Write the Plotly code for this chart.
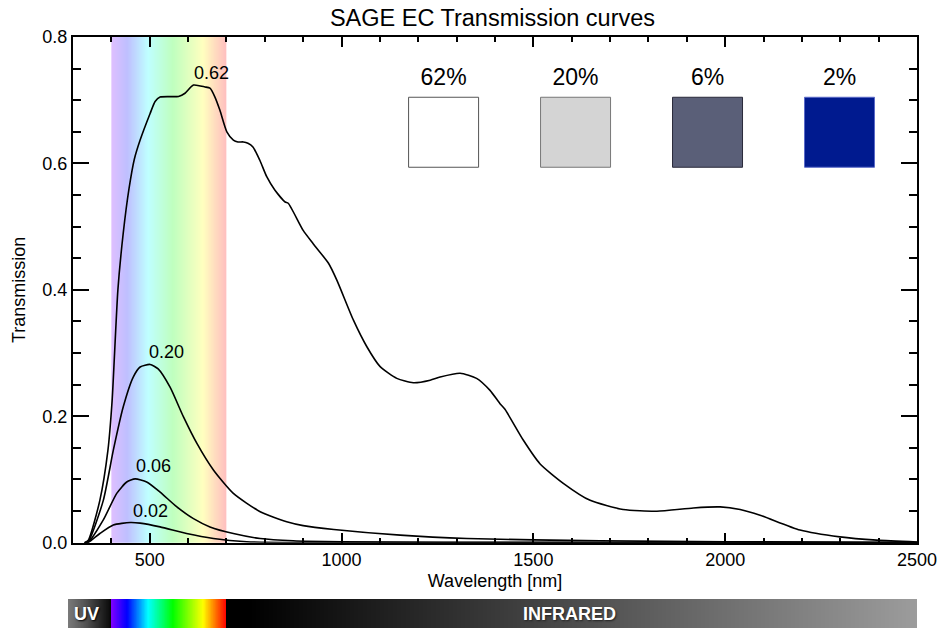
import numpy as np
import plotly.graph_objects as go

# ---------------- data ----------------
wl_62 = [330, 340, 370, 391, 402, 417, 431, 446, 460, 475, 501, 514, 527, 575, 592, 614, 644, 657,
         670, 683, 701, 718, 730, 744, 756, 769, 787, 805, 826, 853, 861, 900, 926, 966, 988, 1031,
         1066, 1100, 1144, 1187, 1231, 1257, 1309, 1352, 1387, 1413, 1426, 1474, 1517, 1578, 1648,
         1734, 1822, 1917, 1987, 2039, 2091, 2195, 2299, 2395, 2500]
tr_62 = [0.0, 0.004, 0.067, 0.146, 0.225, 0.400, 0.490, 0.560, 0.607, 0.637, 0.679, 0.698, 0.705,
         0.706, 0.711, 0.724, 0.721, 0.719, 0.705, 0.684, 0.650, 0.637, 0.634, 0.634, 0.632, 0.626,
         0.605, 0.579, 0.558, 0.539, 0.537, 0.494, 0.473, 0.442, 0.415, 0.352, 0.310, 0.279, 0.260,
         0.253, 0.257, 0.262, 0.268, 0.260, 0.241, 0.220, 0.211, 0.162, 0.125, 0.094, 0.067, 0.0525,
         0.0498, 0.055, 0.0566, 0.0525, 0.0435, 0.020, 0.0092, 0.004, 0.001]

wl_20 = [330, 340, 379, 405, 431, 457, 475, 501, 522, 553, 588, 623, 666, 718, 788, 857, 900, 980,
         1153, 1327, 1500, 1674, 2000, 2500]
tr_20 = [0.0, 0.002, 0.067, 0.146, 0.215, 0.262, 0.278, 0.282, 0.275, 0.246, 0.199, 0.157, 0.115,
         0.078, 0.049, 0.033, 0.027, 0.021, 0.012, 0.0066, 0.0045, 0.003, 0.0015, 0.0005]

wl_06 = [330, 340, 379, 414, 440, 462, 492, 527, 570, 614, 657, 718, 788, 874, 1000, 1500, 2500]
tr_06 = [0.0, 0.001, 0.036, 0.078, 0.096, 0.101, 0.096, 0.080, 0.057, 0.038, 0.025, 0.0145, 0.0066,
         0.003, 0.0015, 0.0005, 0.0]

wl_02 = [330, 340, 370, 405, 449, 475, 527, 596, 666, 753, 900, 2500]
tr_02 = [0.0, 0.0005, 0.0145, 0.028, 0.032, 0.031, 0.025, 0.0145, 0.0066, 0.0015, 0.0003, 0.0]

curve_labels = ["0.62", "0.20", "0.06", "0.02"]
legend_labels = ["62%", "20%", "6%", "2%"]
legend_fill = ["#ffffff", "#d4d4d4", "#5a5f78", "#001a8f"]
legend_edge = ["#555555", "#777777", "#2a2a3a", "#5a6ac8"]

visible_band = [400, 700]       # nm
wl_range = [300, 2500]
x_ticks = [500, 1000, 1500, 2000, 2500]
y_ticks = [0.0, 0.2, 0.4, 0.6, 0.8]

FONT = "Liberation Sans, Arial, Helvetica, sans-serif"

# spectrum colour stops (wavelength, colour)
spec_stops = [(400, "#7f00ff"), (441, "#0000ff"), (496, "#00ffff"), (560, "#00ff00"),
              (639, "#ffff00"), (668, "#ff8000"), (700, "#ff0000")]

fig = go.Figure()

# ---- pastel visible band in the plot ----
band_edges = np.arange(visible_band[0], visible_band[1] + 1, 1)
band_z = [list((band_edges[:-1] + band_edges[1:]) / 2.0)]
lo, hi = visible_band
band_cs = [[(w - lo) / (hi - lo), c] for w, c in spec_stops]
fig.add_trace(go.Heatmap(x=band_edges, y=[0, 0.8], z=band_z, colorscale=band_cs,
                         zmin=lo, zmax=hi, showscale=False, opacity=0.25, hoverinfo="skip"))

# ---- curves ----
for wl, tr in [(wl_62, tr_62), (wl_20, tr_20), (wl_06, tr_06), (wl_02, tr_02)]:
    fig.add_trace(go.Scatter(x=wl, y=tr, mode="lines", line=dict(color="black", width=1.6,
                             shape="spline", smoothing=0.6), hoverinfo="skip", showlegend=False))

# ---- legend boxes ----
leg_x = list(np.linspace(1266, 2298, len(legend_labels)))
fig.add_trace(go.Scatter(x=leg_x, y=[0.6493] * 4, mode="markers",
                         marker=dict(symbol="square", size=70, color=legend_fill,
                                     line=dict(color=legend_edge, width=1)),
                         hoverinfo="skip", showlegend=False))
fig.add_trace(go.Scatter(x=leg_x, y=[0.7336] * 4, mode="text", text=legend_labels,
                         textfont=dict(family=FONT, size=23, color="black"),
                         hoverinfo="skip", showlegend=False))

# ---- bottom spectrum bar ----
bar_lo, bar_hi = 287, 2500
bar_edges = np.arange(bar_lo, bar_hi + 1, 1)
bar_z = [list((bar_edges[:-1] + bar_edges[1:]) / 2.0)]
def n(w):
    return (w - bar_lo) / (bar_hi - bar_lo)
bar_cs = [[0.0, "#7a7a7a"], [n(330), "#555555"], [n(399.5), "#080808"]]
bar_cs += [[n(w if w != 700 else 699.5), c] for w, c in spec_stops]
bar_cs += [[n(700.2), "#000000"], [n(760), "#000000"], [1.0, "#9c9c9c"]]
fig.add_trace(go.Heatmap(x=bar_edges, y=[0, 1], z=bar_z, colorscale=bar_cs, zmin=bar_lo,
                         zmax=bar_hi, showscale=False, xaxis="x2", yaxis="y2", hoverinfo="skip"))

annotations = [
    dict(x=661, y=0.743, text=curve_labels[0]),
    dict(x=544, y=0.302, text=curve_labels[1]),
    dict(x=509, y=0.1218, text=curve_labels[2]),
    dict(x=501, y=0.0506, text=curve_labels[3]),
]
annotations = [dict(a, xref="x", yref="y", showarrow=False,
                    font=dict(family=FONT, size=18, color="black")) for a in annotations]
annotations += [
    dict(x=336, y=0.5, xref="x2", yref="y2", text="UV", showarrow=False,
         font=dict(family=FONT, size=18, color="white", weight="bold",
                   shadow="1px 1px 2px #000")),
    dict(x=1595, y=0.5, xref="x2", yref="y2", text="INFRARED", showarrow=False,
         font=dict(family=FONT, size=18, color="white", weight="bold",
                   shadow="1px 1px 2px #222")),
]

L, R, T, B = 68, 21, 37, 0
W, H = 938, 628
pw, ph = W - L - R, H - T - B
axis_common = dict(showline=True, linecolor="black", linewidth=2, mirror="ticks",
                   ticks="inside", tickcolor="black", tickwidth=1.5, showgrid=False,
                   zeroline=False, automargin=False,
                   tickfont=dict(family=FONT, size=18, color="black"))

fig.update_layout(
    width=W, height=H, margin=dict(l=L, r=R, t=T, b=B),
    paper_bgcolor="white", plot_bgcolor="white", showlegend=False,
    font=dict(family=FONT, color="black"),
    title=dict(text="SAGE EC Transmission curves", x=0.5, xref="paper", xanchor="center",
               y=1 - 18 / H, yref="container", yanchor="middle",
               font=dict(family=FONT, size=23.5, color="black")),
    xaxis=dict(axis_common, domain=[(73 - L) / pw, 1], range=wl_range, tickvals=x_ticks,
               ticklen=10, minor=dict(dtick=100, ticklen=5, ticks="inside", tickcolor="black",
                                      tickwidth=1.5),
               title=dict(text="Wavelength [nm]", font=dict(family=FONT, size=18), standoff=5),
               anchor="y"),
    yaxis=dict(axis_common, domain=[(H - 542.7) / ph, 1], range=[0, 0.8], tickvals=y_ticks,
               tickformat=".1f", ticklen=16,
               minor=dict(dtick=0.05, ticklen=8, ticks="inside", tickcolor="black",
                          tickwidth=1.5),
               title=dict(text="Transmission", font=dict(family=FONT, size=18), standoff=12),
               anchor="x"),
    xaxis2=dict(domain=[0, 1], range=[bar_lo, bar_hi], visible=False, anchor="y2"),
    yaxis2=dict(domain=[0, 29 / ph], range=[0, 1], visible=False, anchor="x2"),
    annotations=annotations,
)

fig.write_html("out.html")
